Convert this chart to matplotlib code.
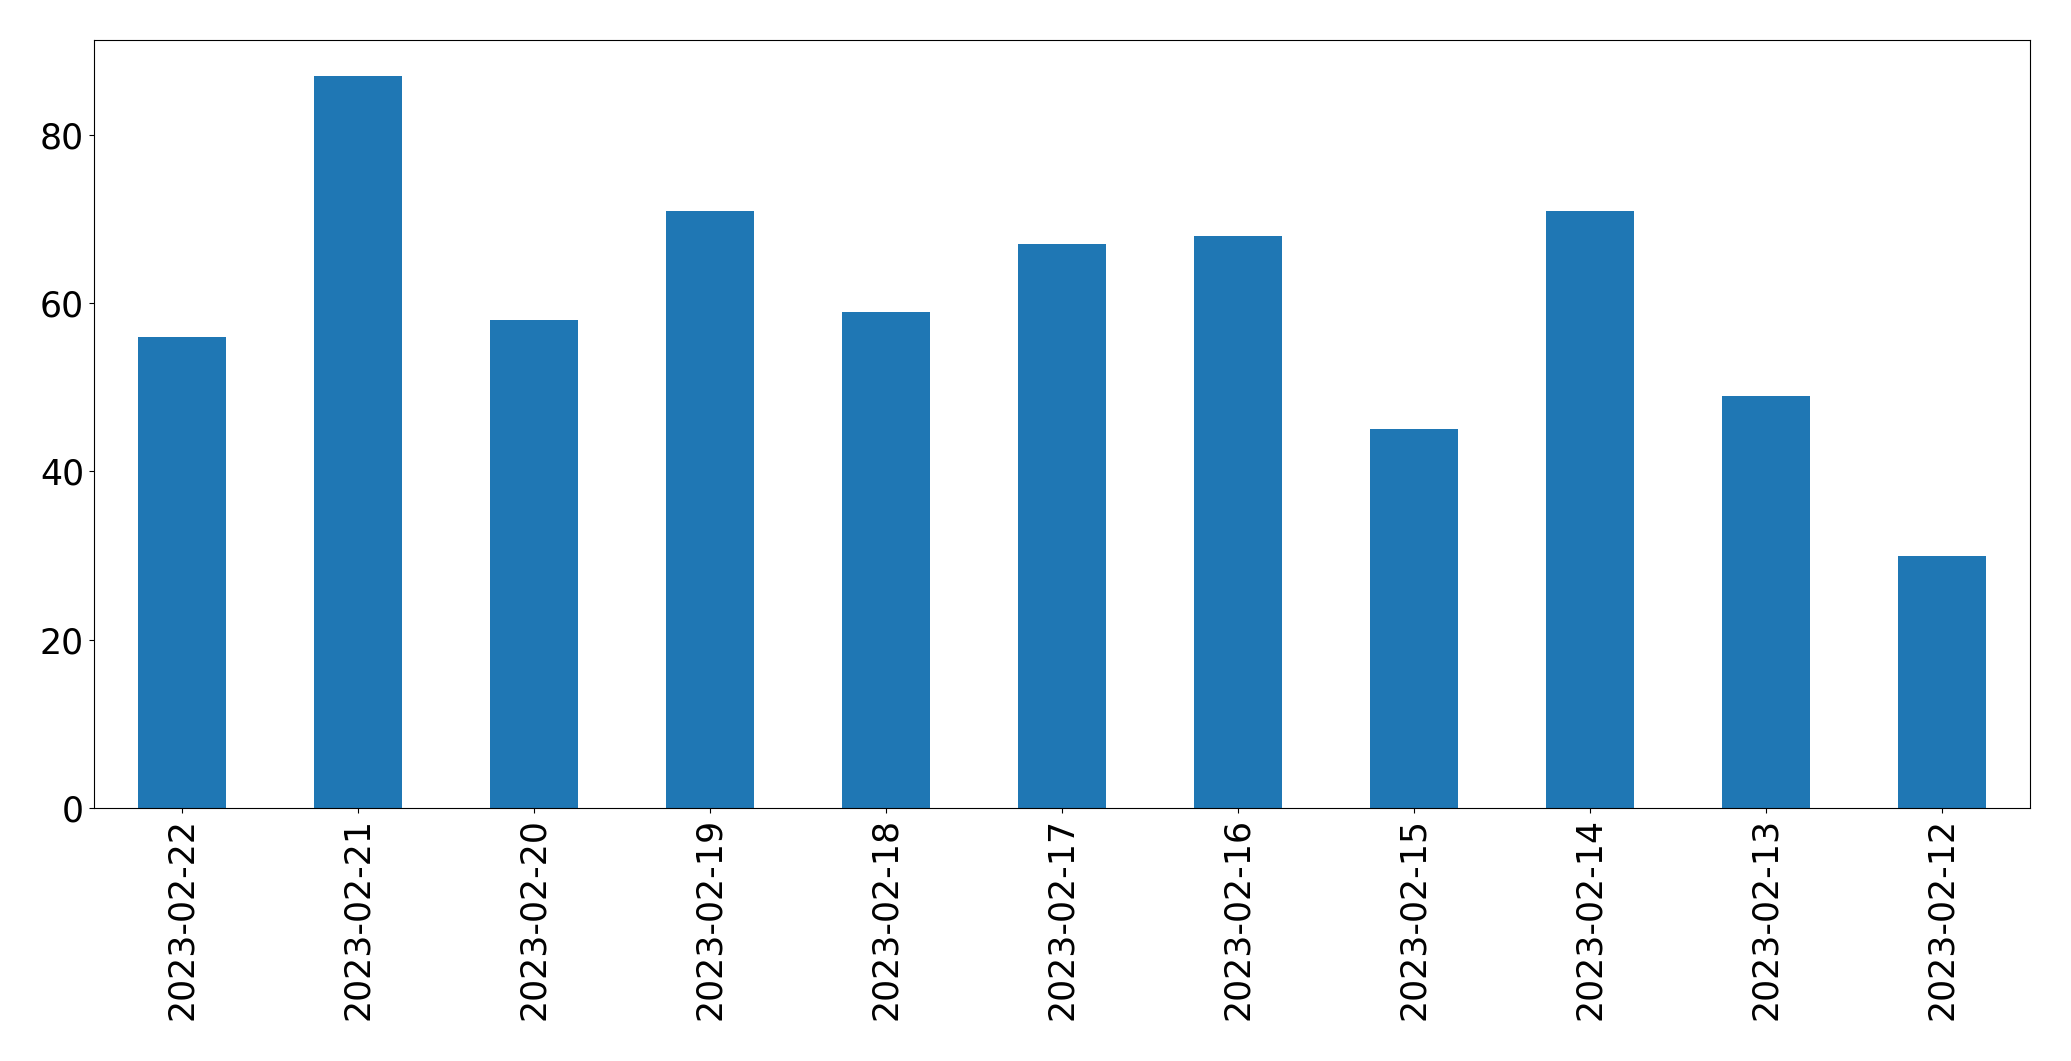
import matplotlib
matplotlib.use("Agg")
import matplotlib.pyplot as plt

dates = ["2023-02-22", "2023-02-21", "2023-02-20", "2023-02-19", "2023-02-18",
         "2023-02-17", "2023-02-16", "2023-02-15", "2023-02-14", "2023-02-13",
         "2023-02-12"]
counts = [56, 87, 58, 71, 59, 67, 68, 45, 71, 49, 30]

fig = plt.figure(figsize=(20.71, 10.61), dpi=100)
ax = fig.add_axes([0.0453, 0.2385, 0.9349, 0.7242])
x = list(range(len(dates)))
ax.bar(x, counts, width=0.5, color="#1f77b4")
ax.set_xlim(-0.5, len(dates) - 0.5)
ax.set_xticks(x)
ax.set_xticklabels(dates, rotation=90)
ax.tick_params(labelsize=25)
ax.set_yticks([0, 20, 40, 60, 80])
fig.savefig("out.png", dpi=100)
